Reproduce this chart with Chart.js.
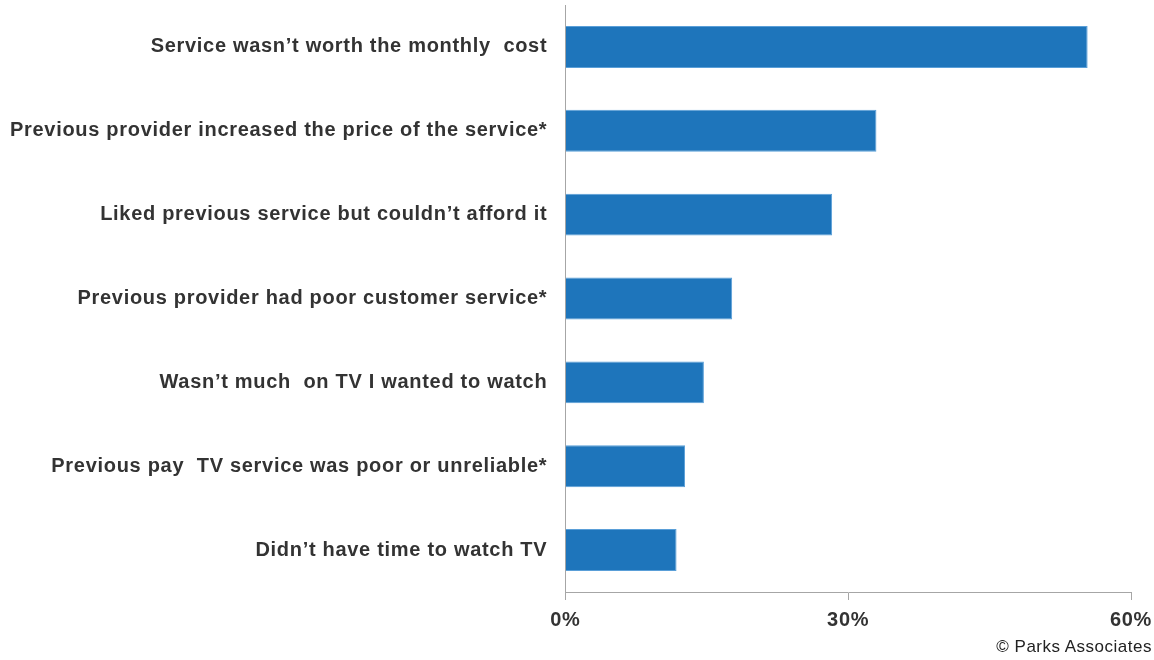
<!DOCTYPE html>
<html lang="en">
<head>
    <meta charset="UTF-8">
    <title>Reasons for Cancelling Pay TV</title>
    <script src="https://cdn.jsdelivr.net/npm/chart.js@4.4.2/dist/chart.umd.min.js"></script>
    <style>
        html, body { margin: 0; padding: 0; background: #fff; }
        .wrap { position: relative; width: 1154px; height: 660px; }
        .credit {
            position: absolute; right: 2px; top: 637px;
            font-family: 'Liberation Sans', Arial, sans-serif;
            font-size: 17px; letter-spacing: 0.5px; color: #222;
        }
    </style>
</head>
<body>
    <div class="wrap">
        <canvas id="reasonsChart" width="1154" height="660"></canvas>
        <div class="credit">© Parks Associates</div>
    </div>

    <script>
        // --- Data ---
        const reasons = [
            'Service wasn\u2019t worth the monthly  cost',
            'Previous provider increased the price of the service*',
            'Liked previous service but couldn\u2019t afford it',
            'Previous provider had poor customer service*',
            'Wasn\u2019t much  on TV I wanted to watch',
            'Previous pay  TV service was poor or unreliable*',
            'Didn\u2019t have time to watch TV'
        ];
        const shares = [55.4, 33.0, 28.3, 17.7, 14.7, 12.7, 11.8];
        const xTicks = [0, 30, 60];

        const labelFont = { family: "'Liberation Sans', Arial, sans-serif", size: 20, weight: 'bold' };

        // the reference text is set a little wider than plain Arial
        const spacing = {
            id: 'spacing',
            beforeLayout(chart) { chart.ctx.letterSpacing = '0.7px'; },
            beforeDraw(chart) { chart.ctx.letterSpacing = '0.7px'; }
        };

        const ctx = document.getElementById('reasonsChart').getContext('2d');

        new Chart(ctx, {
            type: 'bar',
            data: {
                labels: reasons,
                datasets: [{
                    data: shares,
                    backgroundColor: '#1e75bb',
                    borderColor: '#5a9fd8',
                    borderWidth: 1,
                    barPercentage: 0.5,
                    categoryPercentage: 1.0
                }]
            },
            options: {
                indexAxis: 'y',
                responsive: false,
                animation: false,
                layout: { padding: { top: 5, right: 23, bottom: 20, left: 0 } },
                scales: {
                    x: {
                        min: 0,
                        max: 60,
                        afterBuildTicks: (axis) => {
                            axis.ticks = xTicks.map(v => ({ value: v }));
                        },
                        afterFit: (axis) => {
                            axis.paddingLeft = 0;
                            axis.paddingRight = 0;
                        },
                        grid: {
                            display: true,
                            drawOnChartArea: false,
                            drawTicks: true,
                            tickLength: 8,
                            color: '#a6a6a6'
                        },
                        border: { display: true, color: '#a6a6a6' },
                        ticks: {
                            padding: 8,
                            color: '#333',
                            font: labelFont,
                            callback: (v) => v + '%'
                        }
                    },
                    y: {
                        afterFit: (axis) => {
                            axis.paddingTop = 0;
                            axis.paddingBottom = 0;
                        },
                        grid: { display: false },
                        border: { display: true, color: '#a6a6a6' },
                        ticks: {
                            padding: 10,
                            color: '#333',
                            font: labelFont
                        }
                    }
                },
                plugins: {
                    legend: { display: false },
                    tooltip: { enabled: false }
                }
            },
            plugins: [spacing]
        });
    </script>
</body>
</html>
